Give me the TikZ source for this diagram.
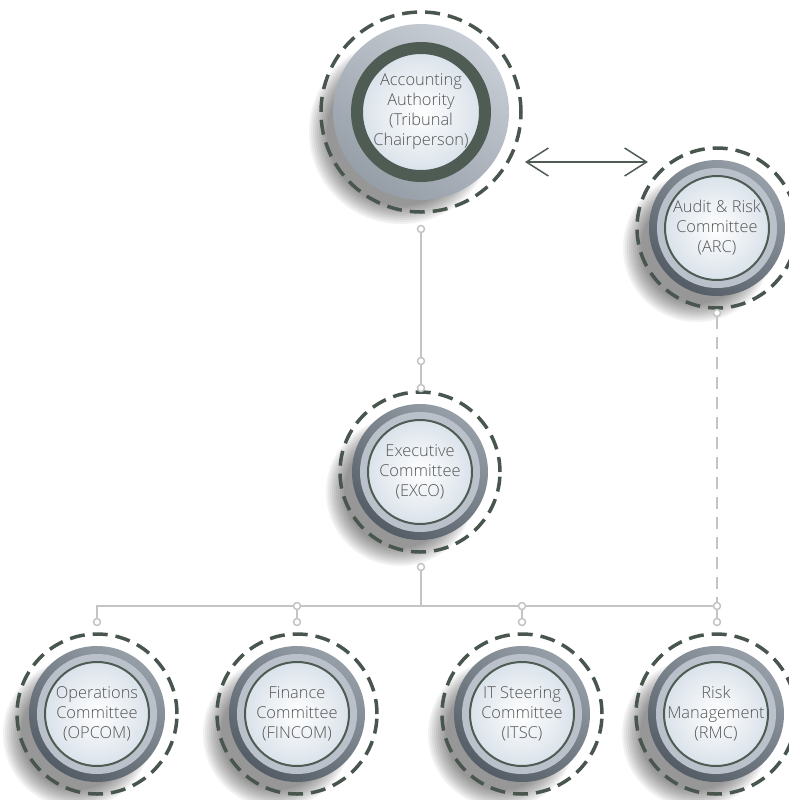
\documentclass[tikz,border=0pt]{standalone}
\usepackage{fontspec}
\setmainfont{Open Sans}[UprightFont=* Light]
\usetikzlibrary{arrows.meta,positioning,backgrounds}
\definecolor{ringdark}{RGB}{78,92,84}
\definecolor{dashgreen}{RGB}{72,86,78}
\definecolor{discdark}{RGB}{84,92,102}
\definecolor{discmid}{RGB}{150,158,168}
\definecolor{disclight}{RGB}{186,193,202}
\definecolor{facelight}{RGB}{218,226,234}
\definecolor{linkgrey}{RGB}{196,196,196}
\definecolor{labelgrey}{RGB}{85,85,85}

% soft shadow to the lower left of node #1, disc radius #2
\newcommand{\discshadow}[2]{%
  \foreach \s in {1,...,10}
    \fill[black,opacity=0.05] ([shift={(-10pt,-10pt)}]#1.center) circle ({#2+\s*1pt});}

\newcommand{\unitdisc}[1]{%
  \discshadow{#1}{27pt}
  \shade[top color=discmid,bottom color=discdark,shading angle=-35] (#1.center) circle (34pt);
  \fill[disclight] (#1.center) circle (30pt);
  \shade[inner color=white,outer color=facelight] (#1.center) circle (26pt);
  \draw[ringdark,line width=1pt] (#1.center) circle (26pt);}

\newcommand{\headdisc}[1]{%
  \discshadow{#1}{36pt}
  \shade[top color=disclight!80!white,bottom color=discmid,shading angle=-35] (#1.center) circle (44pt);
  \shade[inner color=white,outer color=facelight] (#1.center) circle (30pt);
  \draw[ringdark,line width=6pt] (#1.center) circle (32pt);}

\begin{document}
\begin{tikzpicture}[
    x=0.5pt, y=-0.5pt,
    unit/.style={circle,draw=dashgreen,line width=1.75pt,dash pattern=on 7.5pt off 4pt,
      minimum size=80pt,inner sep=0pt,align=center,text=labelgrey,
      font=\fontsize{8.2}{10}\selectfont},
    head/.style={unit,minimum size=100pt},
    dot/.style={circle,draw=linkgrey,fill=white,line width=0.75pt,minimum size=3.5pt,inner sep=0pt},
    link/.style={draw=linkgrey,line width=1pt},
    dottedlink/.style={link,dash pattern=on 6pt off 4pt},
    twoway/.style={{Straight Barb[length=11pt,width=14pt]}-{Straight Barb[length=11pt,width=14pt]},
      draw=ringdark,line width=0.75pt}
  ]
    \useasboundingbox (0,0) rectangle (789,800);

    % committees
    \node[head] (aa) at (421,112) {Accounting\\Authority\\(Tribunal\\Chairperson)};
    \node[unit] (arc) at (717,228) {Audit \& Risk\\Committee\\(ARC)};
    \node[unit] (exco) at (420,472) {Executive\\Committee\\(EXCO)};
    \node[unit] (opcom) at (97,714) {Operations\\Committee\\(OPCOM)};
    \node[unit] (fincom) at (297,714) {Finance\\Committee\\(FINCOM)};
    \node[unit] (itsc) at (522,714) {IT Steering\\Committee\\(ITSC)};
    \node[unit] (rmc) at (716,714) {Risk\\Management\\(RMC)};

    \begin{scope}[on background layer]
      \headdisc{aa}
      \foreach \n in {arc,exco,opcom,fincom,itsc,rmc}
        {\unitdisc{\n}}
    \end{scope}

    % joints
    \node[dot] (aa-out) at (421,229) {};
    \node[dot] (exco-in) at (421,361) {};
    \node[dot] (exco-top) at (421,388) {};
    \node[dot] (exco-out) at (421,567) {};
    \node[dot] (arc-out) at (717,313) {};
    \coordinate (bus-mid) at (421,606);
    \coordinate (bus-left) at (97,606);
    \node[dot] (bus-fin) at (297,606) {};
    \node[dot] (bus-it) at (522,606) {};
    \node[dot] (bus-rmc) at (717,606) {};
    \node[dot] (opcom-in) at (97,622) {};
    \node[dot] (fincom-in) at (297,622) {};
    \node[dot] (itsc-in) at (522,622) {};
    \node[dot] (rmc-in) at (717,622) {};
    \coordinate (arrow-l) at (525,162);
    \coordinate (arrow-r) at (648,162);

    % links
    \draw[link] (aa-out) -- (exco-in);
    \draw[link] (exco-in) -- (exco-top);
    \draw[link] (exco-out) -- (bus-mid);
    \draw[link] (opcom-in) -- (bus-left) -- (bus-fin);
    \draw[link] (bus-fin) -- (bus-it);
    \draw[link] (bus-it) -- (bus-rmc);
    \draw[link] (bus-fin) -- (fincom-in);
    \draw[link] (bus-it) -- (itsc-in);
    \draw[link] (bus-rmc) -- (rmc-in);
    \draw[dottedlink] (arc-out) -- (bus-rmc);
    \draw[twoway] (arrow-l) -- (arrow-r);
\end{tikzpicture}
\end{document}
